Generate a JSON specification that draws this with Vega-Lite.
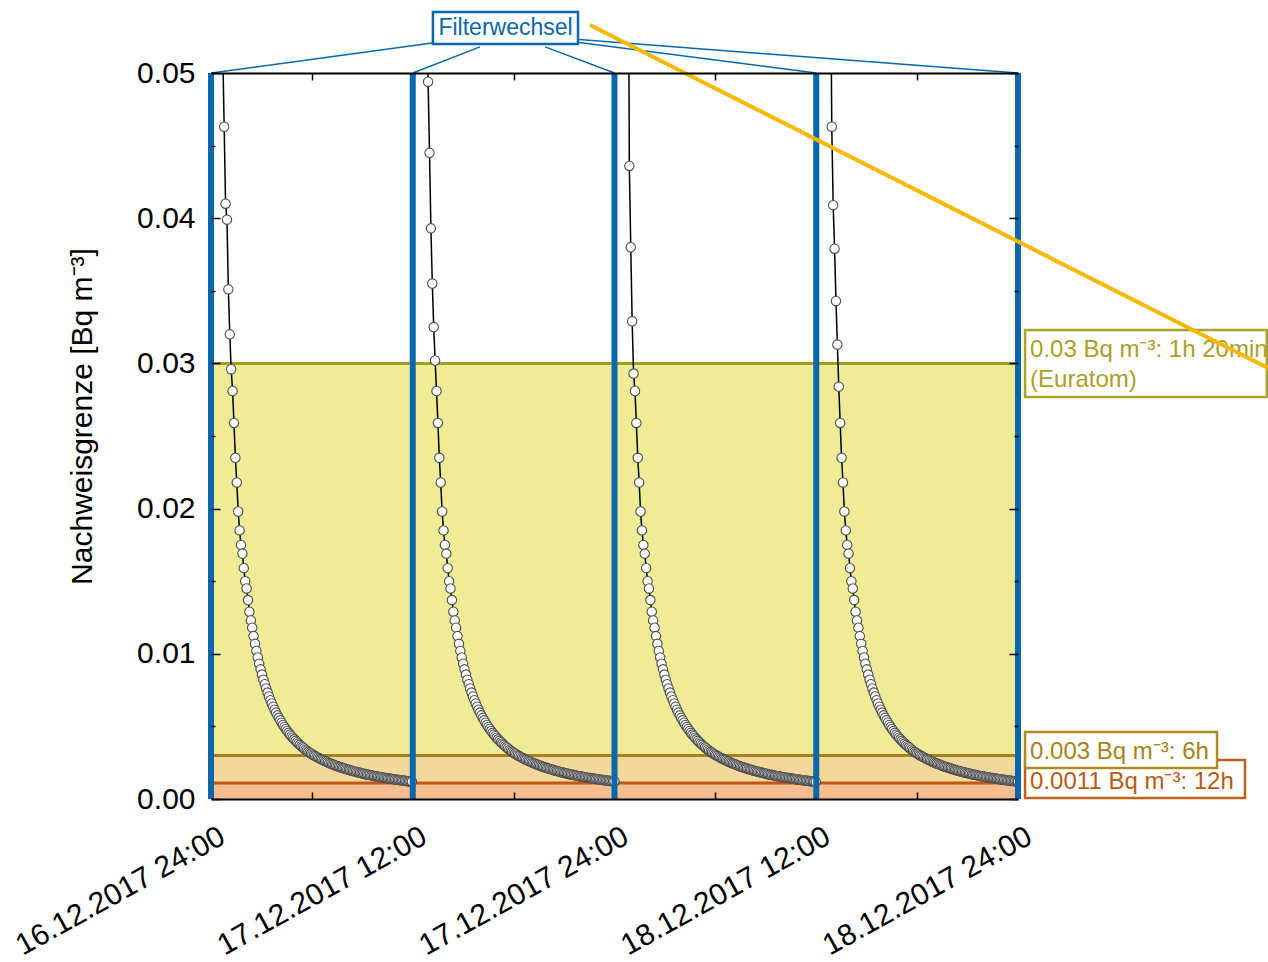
{
"$schema": "https://vega.github.io/schema/vega-lite/v6.json",
"width": 807, "height": 726,
"autosize": {"type": "none"},
"padding": {"left": 211, "top": 73, "right": 250, "bottom": 163},
"background": "white",
"config": {"view": {"stroke": null}, "font": "Liberation Sans"},
"datasets": {
"pts": [
{"s":1,"x":0.7,"y":0.0515},{"s":1,"x":0.783,"y":0.0463},{"s":1,"x":0.867,"y":0.041},{"s":1,"x":0.95,"y":0.0399},{"s":1,"x":1.033,"y":0.0351},{"s":1,"x":1.117,"y":0.032},{"s":1,"x":1.2,"y":0.0296},{"s":1,"x":1.283,"y":0.0281},{"s":1,"x":1.367,"y":0.0259},{"s":1,"x":1.45,"y":0.0235},{"s":1,"x":1.533,"y":0.0218},{"s":1,"x":1.617,"y":0.0198},
{"s":1,"x":1.7,"y":0.0185},{"s":1,"x":1.783,"y":0.0175},{"s":1,"x":1.867,"y":0.0169},{"s":1,"x":1.95,"y":0.0159},{"s":1,"x":2.033,"y":0.015},{"s":1,"x":2.117,"y":0.0145},{"s":1,"x":2.2,"y":0.0137},{"s":1,"x":2.283,"y":0.0129},{"s":1,"x":2.367,"y":0.0123},{"s":1,"x":2.45,"y":0.0118},{"s":1,"x":2.533,"y":0.01122},{"s":1,"x":2.617,"y":0.01069},
{"s":1,"x":2.7,"y":0.0102},{"s":1,"x":2.783,"y":0.00975},{"s":1,"x":2.867,"y":0.00932},{"s":1,"x":2.95,"y":0.00893},{"s":1,"x":3.033,"y":0.00857},{"s":1,"x":3.117,"y":0.00822},{"s":1,"x":3.2,"y":0.00791},{"s":1,"x":3.283,"y":0.00761},{"s":1,"x":3.367,"y":0.00733},{"s":1,"x":3.45,"y":0.00706},{"s":1,"x":3.533,"y":0.00681},{"s":1,"x":3.617,"y":0.00658},
{"s":1,"x":3.7,"y":0.00636},{"s":1,"x":3.783,"y":0.00615},{"s":1,"x":3.867,"y":0.00595},{"s":1,"x":3.95,"y":0.00576},{"s":1,"x":4.033,"y":0.00559},{"s":1,"x":4.117,"y":0.00542},{"s":1,"x":4.2,"y":0.00526},{"s":1,"x":4.283,"y":0.0051},{"s":1,"x":4.367,"y":0.00496},{"s":1,"x":4.45,"y":0.00482},{"s":1,"x":4.533,"y":0.00469},{"s":1,"x":4.617,"y":0.00456},
{"s":1,"x":4.7,"y":0.00444},{"s":1,"x":4.783,"y":0.00433},{"s":1,"x":4.867,"y":0.00422},{"s":1,"x":4.95,"y":0.00411},{"s":1,"x":5.033,"y":0.00401},{"s":1,"x":5.117,"y":0.00391},{"s":1,"x":5.2,"y":0.00382},{"s":1,"x":5.283,"y":0.00373},{"s":1,"x":5.367,"y":0.00364},{"s":1,"x":5.45,"y":0.00356},{"s":1,"x":5.533,"y":0.00348},{"s":1,"x":5.617,"y":0.0034},
{"s":1,"x":5.7,"y":0.00333},{"s":1,"x":5.783,"y":0.00325},{"s":1,"x":5.867,"y":0.00319},{"s":1,"x":5.95,"y":0.00313},{"s":1,"x":6.033,"y":0.00307},{"s":1,"x":6.117,"y":0.00301},{"s":1,"x":6.2,"y":0.00296},{"s":1,"x":6.283,"y":0.0029},{"s":1,"x":6.367,"y":0.00285},{"s":1,"x":6.45,"y":0.0028},{"s":1,"x":6.533,"y":0.00275},{"s":1,"x":6.617,"y":0.0027},
{"s":1,"x":6.7,"y":0.00266},{"s":1,"x":6.783,"y":0.00261},{"s":1,"x":6.867,"y":0.00257},{"s":1,"x":6.95,"y":0.00252},{"s":1,"x":7.033,"y":0.00248},{"s":1,"x":7.117,"y":0.00244},{"s":1,"x":7.2,"y":0.0024},{"s":1,"x":7.283,"y":0.00237},{"s":1,"x":7.367,"y":0.00233},{"s":1,"x":7.45,"y":0.00229},{"s":1,"x":7.533,"y":0.00226},{"s":1,"x":7.617,"y":0.00222},
{"s":1,"x":7.7,"y":0.00219},{"s":1,"x":7.783,"y":0.00216},{"s":1,"x":7.867,"y":0.00213},{"s":1,"x":7.95,"y":0.0021},{"s":1,"x":8.033,"y":0.00207},{"s":1,"x":8.117,"y":0.00204},{"s":1,"x":8.2,"y":0.00201},{"s":1,"x":8.283,"y":0.00198},{"s":1,"x":8.367,"y":0.00195},{"s":1,"x":8.45,"y":0.00193},{"s":1,"x":8.533,"y":0.0019},{"s":1,"x":8.617,"y":0.00188},
{"s":1,"x":8.7,"y":0.00185},{"s":1,"x":8.783,"y":0.00183},{"s":1,"x":8.867,"y":0.0018},{"s":1,"x":8.95,"y":0.00178},{"s":1,"x":9.033,"y":0.00176},{"s":1,"x":9.117,"y":0.00174},{"s":1,"x":9.2,"y":0.00171},{"s":1,"x":9.283,"y":0.00169},{"s":1,"x":9.367,"y":0.00167},{"s":1,"x":9.45,"y":0.00165},{"s":1,"x":9.533,"y":0.00163},{"s":1,"x":9.617,"y":0.00161},
{"s":1,"x":9.7,"y":0.00159},{"s":1,"x":9.783,"y":0.00157},{"s":1,"x":9.867,"y":0.00156},{"s":1,"x":9.95,"y":0.00154},{"s":1,"x":10.033,"y":0.00152},{"s":1,"x":10.117,"y":0.0015},{"s":1,"x":10.2,"y":0.00149},{"s":1,"x":10.283,"y":0.00147},{"s":1,"x":10.367,"y":0.00145},{"s":1,"x":10.45,"y":0.00144},{"s":1,"x":10.533,"y":0.00142},{"s":1,"x":10.617,"y":0.00141},
{"s":1,"x":10.7,"y":0.00139},{"s":1,"x":10.783,"y":0.00138},{"s":1,"x":10.867,"y":0.00136},{"s":1,"x":10.95,"y":0.00135},{"s":1,"x":11.033,"y":0.00133},{"s":1,"x":11.117,"y":0.00132},{"s":1,"x":11.2,"y":0.00131},{"s":1,"x":11.283,"y":0.00129},{"s":1,"x":11.367,"y":0.00128},{"s":1,"x":11.45,"y":0.00127},{"s":1,"x":11.533,"y":0.00126},{"s":1,"x":11.617,"y":0.00124},
{"s":1,"x":11.7,"y":0.00123},{"s":1,"x":11.783,"y":0.00122},{"s":1,"x":11.867,"y":0.00121},{"s":1,"x":11.95,"y":0.0012},
{"s":2,"x":12.83,"y":0.056},{"s":2,"x":12.913,"y":0.0494},{"s":2,"x":12.997,"y":0.0445},{"s":2,"x":13.08,"y":0.0393},{"s":2,"x":13.163,"y":0.0355},{"s":2,"x":13.247,"y":0.0325},{"s":2,"x":13.33,"y":0.0302},{"s":2,"x":13.413,"y":0.0281},{"s":2,"x":13.497,"y":0.0259},{"s":2,"x":13.58,"y":0.0235},{"s":2,"x":13.663,"y":0.0218},{"s":2,"x":13.747,"y":0.0198},
{"s":2,"x":13.83,"y":0.0185},{"s":2,"x":13.913,"y":0.0175},{"s":2,"x":13.997,"y":0.0169},{"s":2,"x":14.08,"y":0.0159},{"s":2,"x":14.163,"y":0.015},{"s":2,"x":14.247,"y":0.0145},{"s":2,"x":14.33,"y":0.0137},{"s":2,"x":14.413,"y":0.0129},{"s":2,"x":14.497,"y":0.0123},{"s":2,"x":14.58,"y":0.0118},{"s":2,"x":14.663,"y":0.01122},{"s":2,"x":14.747,"y":0.01069},
{"s":2,"x":14.83,"y":0.0102},{"s":2,"x":14.913,"y":0.00975},{"s":2,"x":14.997,"y":0.00932},{"s":2,"x":15.08,"y":0.00893},{"s":2,"x":15.163,"y":0.00857},{"s":2,"x":15.247,"y":0.00822},{"s":2,"x":15.33,"y":0.00791},{"s":2,"x":15.413,"y":0.00761},{"s":2,"x":15.497,"y":0.00733},{"s":2,"x":15.58,"y":0.00706},{"s":2,"x":15.663,"y":0.00681},{"s":2,"x":15.747,"y":0.00658},
{"s":2,"x":15.83,"y":0.00636},{"s":2,"x":15.913,"y":0.00615},{"s":2,"x":15.997,"y":0.00595},{"s":2,"x":16.08,"y":0.00576},{"s":2,"x":16.163,"y":0.00559},{"s":2,"x":16.247,"y":0.00542},{"s":2,"x":16.33,"y":0.00526},{"s":2,"x":16.413,"y":0.0051},{"s":2,"x":16.497,"y":0.00496},{"s":2,"x":16.58,"y":0.00482},{"s":2,"x":16.663,"y":0.00469},{"s":2,"x":16.747,"y":0.00456},
{"s":2,"x":16.83,"y":0.00444},{"s":2,"x":16.913,"y":0.00433},{"s":2,"x":16.997,"y":0.00422},{"s":2,"x":17.08,"y":0.00411},{"s":2,"x":17.163,"y":0.00401},{"s":2,"x":17.247,"y":0.00391},{"s":2,"x":17.33,"y":0.00382},{"s":2,"x":17.413,"y":0.00373},{"s":2,"x":17.497,"y":0.00364},{"s":2,"x":17.58,"y":0.00356},{"s":2,"x":17.663,"y":0.00348},{"s":2,"x":17.747,"y":0.0034},
{"s":2,"x":17.83,"y":0.00333},{"s":2,"x":17.913,"y":0.00325},{"s":2,"x":17.997,"y":0.00319},{"s":2,"x":18.08,"y":0.00313},{"s":2,"x":18.163,"y":0.00307},{"s":2,"x":18.247,"y":0.00301},{"s":2,"x":18.33,"y":0.00296},{"s":2,"x":18.413,"y":0.0029},{"s":2,"x":18.497,"y":0.00285},{"s":2,"x":18.58,"y":0.0028},{"s":2,"x":18.663,"y":0.00275},{"s":2,"x":18.747,"y":0.0027},
{"s":2,"x":18.83,"y":0.00266},{"s":2,"x":18.913,"y":0.00261},{"s":2,"x":18.997,"y":0.00257},{"s":2,"x":19.08,"y":0.00252},{"s":2,"x":19.163,"y":0.00248},{"s":2,"x":19.247,"y":0.00244},{"s":2,"x":19.33,"y":0.0024},{"s":2,"x":19.413,"y":0.00237},{"s":2,"x":19.497,"y":0.00233},{"s":2,"x":19.58,"y":0.00229},{"s":2,"x":19.663,"y":0.00226},{"s":2,"x":19.747,"y":0.00222},
{"s":2,"x":19.83,"y":0.00219},{"s":2,"x":19.913,"y":0.00216},{"s":2,"x":19.997,"y":0.00213},{"s":2,"x":20.08,"y":0.0021},{"s":2,"x":20.163,"y":0.00207},{"s":2,"x":20.247,"y":0.00204},{"s":2,"x":20.33,"y":0.00201},{"s":2,"x":20.413,"y":0.00198},{"s":2,"x":20.497,"y":0.00195},{"s":2,"x":20.58,"y":0.00193},{"s":2,"x":20.663,"y":0.0019},{"s":2,"x":20.747,"y":0.00188},
{"s":2,"x":20.83,"y":0.00185},{"s":2,"x":20.913,"y":0.00183},{"s":2,"x":20.997,"y":0.0018},{"s":2,"x":21.08,"y":0.00178},{"s":2,"x":21.163,"y":0.00176},{"s":2,"x":21.247,"y":0.00174},{"s":2,"x":21.33,"y":0.00171},{"s":2,"x":21.413,"y":0.00169},{"s":2,"x":21.497,"y":0.00167},{"s":2,"x":21.58,"y":0.00165},{"s":2,"x":21.663,"y":0.00163},{"s":2,"x":21.747,"y":0.00161},
{"s":2,"x":21.83,"y":0.00159},{"s":2,"x":21.913,"y":0.00157},{"s":2,"x":21.997,"y":0.00156},{"s":2,"x":22.08,"y":0.00154},{"s":2,"x":22.163,"y":0.00152},{"s":2,"x":22.247,"y":0.0015},{"s":2,"x":22.33,"y":0.00149},{"s":2,"x":22.413,"y":0.00147},{"s":2,"x":22.497,"y":0.00145},{"s":2,"x":22.58,"y":0.00144},{"s":2,"x":22.663,"y":0.00142},{"s":2,"x":22.747,"y":0.00141},
{"s":2,"x":22.83,"y":0.00139},{"s":2,"x":22.913,"y":0.00138},{"s":2,"x":22.997,"y":0.00136},{"s":2,"x":23.08,"y":0.00135},{"s":2,"x":23.163,"y":0.00133},{"s":2,"x":23.247,"y":0.00132},{"s":2,"x":23.33,"y":0.00131},{"s":2,"x":23.413,"y":0.00129},{"s":2,"x":23.497,"y":0.00128},{"s":2,"x":23.58,"y":0.00127},{"s":2,"x":23.663,"y":0.00126},{"s":2,"x":23.747,"y":0.00124},
{"s":2,"x":23.83,"y":0.00123},{"s":2,"x":23.913,"y":0.00122},{"s":2,"x":23.997,"y":0.00121},
{"s":3,"x":24.8,"y":0.066},{"s":3,"x":24.883,"y":0.0436},{"s":3,"x":24.967,"y":0.038},{"s":3,"x":25.05,"y":0.0329},{"s":3,"x":25.133,"y":0.0293},{"s":3,"x":25.217,"y":0.0281},{"s":3,"x":25.3,"y":0.0259},{"s":3,"x":25.383,"y":0.0235},{"s":3,"x":25.467,"y":0.0218},{"s":3,"x":25.55,"y":0.0198},{"s":3,"x":25.633,"y":0.0185},{"s":3,"x":25.717,"y":0.0175},
{"s":3,"x":25.8,"y":0.0169},{"s":3,"x":25.883,"y":0.0159},{"s":3,"x":25.967,"y":0.015},{"s":3,"x":26.05,"y":0.0145},{"s":3,"x":26.133,"y":0.0137},{"s":3,"x":26.217,"y":0.0129},{"s":3,"x":26.3,"y":0.0123},{"s":3,"x":26.383,"y":0.0118},{"s":3,"x":26.467,"y":0.01122},{"s":3,"x":26.55,"y":0.01069},{"s":3,"x":26.633,"y":0.0102},{"s":3,"x":26.717,"y":0.00975},
{"s":3,"x":26.8,"y":0.00932},{"s":3,"x":26.883,"y":0.00893},{"s":3,"x":26.967,"y":0.00857},{"s":3,"x":27.05,"y":0.00822},{"s":3,"x":27.133,"y":0.00791},{"s":3,"x":27.217,"y":0.00761},{"s":3,"x":27.3,"y":0.00733},{"s":3,"x":27.383,"y":0.00706},{"s":3,"x":27.467,"y":0.00681},{"s":3,"x":27.55,"y":0.00658},{"s":3,"x":27.633,"y":0.00636},{"s":3,"x":27.717,"y":0.00615},
{"s":3,"x":27.8,"y":0.00595},{"s":3,"x":27.883,"y":0.00576},{"s":3,"x":27.967,"y":0.00559},{"s":3,"x":28.05,"y":0.00542},{"s":3,"x":28.133,"y":0.00526},{"s":3,"x":28.217,"y":0.0051},{"s":3,"x":28.3,"y":0.00496},{"s":3,"x":28.383,"y":0.00482},{"s":3,"x":28.467,"y":0.00469},{"s":3,"x":28.55,"y":0.00456},{"s":3,"x":28.633,"y":0.00444},{"s":3,"x":28.717,"y":0.00433},
{"s":3,"x":28.8,"y":0.00422},{"s":3,"x":28.883,"y":0.00411},{"s":3,"x":28.967,"y":0.00401},{"s":3,"x":29.05,"y":0.00391},{"s":3,"x":29.133,"y":0.00382},{"s":3,"x":29.217,"y":0.00373},{"s":3,"x":29.3,"y":0.00364},{"s":3,"x":29.383,"y":0.00356},{"s":3,"x":29.467,"y":0.00348},{"s":3,"x":29.55,"y":0.0034},{"s":3,"x":29.633,"y":0.00333},{"s":3,"x":29.717,"y":0.00325},
{"s":3,"x":29.8,"y":0.00319},{"s":3,"x":29.883,"y":0.00313},{"s":3,"x":29.967,"y":0.00307},{"s":3,"x":30.05,"y":0.00301},{"s":3,"x":30.133,"y":0.00296},{"s":3,"x":30.217,"y":0.0029},{"s":3,"x":30.3,"y":0.00285},{"s":3,"x":30.383,"y":0.0028},{"s":3,"x":30.467,"y":0.00275},{"s":3,"x":30.55,"y":0.0027},{"s":3,"x":30.633,"y":0.00266},{"s":3,"x":30.717,"y":0.00261},
{"s":3,"x":30.8,"y":0.00257},{"s":3,"x":30.883,"y":0.00252},{"s":3,"x":30.967,"y":0.00248},{"s":3,"x":31.05,"y":0.00244},{"s":3,"x":31.133,"y":0.0024},{"s":3,"x":31.217,"y":0.00237},{"s":3,"x":31.3,"y":0.00233},{"s":3,"x":31.383,"y":0.00229},{"s":3,"x":31.467,"y":0.00226},{"s":3,"x":31.55,"y":0.00222},{"s":3,"x":31.633,"y":0.00219},{"s":3,"x":31.717,"y":0.00216},
{"s":3,"x":31.8,"y":0.00213},{"s":3,"x":31.883,"y":0.0021},{"s":3,"x":31.967,"y":0.00207},{"s":3,"x":32.05,"y":0.00204},{"s":3,"x":32.133,"y":0.00201},{"s":3,"x":32.217,"y":0.00198},{"s":3,"x":32.3,"y":0.00195},{"s":3,"x":32.383,"y":0.00193},{"s":3,"x":32.467,"y":0.0019},{"s":3,"x":32.55,"y":0.00188},{"s":3,"x":32.633,"y":0.00185},{"s":3,"x":32.717,"y":0.00183},
{"s":3,"x":32.8,"y":0.0018},{"s":3,"x":32.883,"y":0.00178},{"s":3,"x":32.967,"y":0.00176},{"s":3,"x":33.05,"y":0.00174},{"s":3,"x":33.133,"y":0.00171},{"s":3,"x":33.217,"y":0.00169},{"s":3,"x":33.3,"y":0.00167},{"s":3,"x":33.383,"y":0.00165},{"s":3,"x":33.467,"y":0.00163},{"s":3,"x":33.55,"y":0.00161},{"s":3,"x":33.633,"y":0.00159},{"s":3,"x":33.717,"y":0.00157},
{"s":3,"x":33.8,"y":0.00156},{"s":3,"x":33.883,"y":0.00154},{"s":3,"x":33.967,"y":0.00152},{"s":3,"x":34.05,"y":0.0015},{"s":3,"x":34.133,"y":0.00149},{"s":3,"x":34.217,"y":0.00147},{"s":3,"x":34.3,"y":0.00145},{"s":3,"x":34.383,"y":0.00144},{"s":3,"x":34.467,"y":0.00142},{"s":3,"x":34.55,"y":0.00141},{"s":3,"x":34.633,"y":0.00139},{"s":3,"x":34.717,"y":0.00138},
{"s":3,"x":34.8,"y":0.00136},{"s":3,"x":34.883,"y":0.00135},{"s":3,"x":34.967,"y":0.00133},{"s":3,"x":35.05,"y":0.00132},{"s":3,"x":35.133,"y":0.00131},{"s":3,"x":35.217,"y":0.00129},{"s":3,"x":35.3,"y":0.00128},{"s":3,"x":35.383,"y":0.00127},{"s":3,"x":35.467,"y":0.00126},{"s":3,"x":35.55,"y":0.00124},{"s":3,"x":35.633,"y":0.00123},{"s":3,"x":35.717,"y":0.00122},
{"s":3,"x":35.8,"y":0.00121},{"s":3,"x":35.883,"y":0.0012},{"s":3,"x":35.967,"y":0.00119},
{"s":4,"x":36.84,"y":0.06},{"s":4,"x":36.923,"y":0.0463},{"s":4,"x":37.007,"y":0.0409},{"s":4,"x":37.09,"y":0.0379},{"s":4,"x":37.173,"y":0.0343},{"s":4,"x":37.257,"y":0.0313},{"s":4,"x":37.34,"y":0.0284},{"s":4,"x":37.423,"y":0.0259},{"s":4,"x":37.507,"y":0.0235},{"s":4,"x":37.59,"y":0.0218},{"s":4,"x":37.673,"y":0.0198},{"s":4,"x":37.757,"y":0.0185},
{"s":4,"x":37.84,"y":0.0175},{"s":4,"x":37.923,"y":0.0169},{"s":4,"x":38.007,"y":0.0159},{"s":4,"x":38.09,"y":0.015},{"s":4,"x":38.173,"y":0.0145},{"s":4,"x":38.257,"y":0.0137},{"s":4,"x":38.34,"y":0.0129},{"s":4,"x":38.423,"y":0.0123},{"s":4,"x":38.507,"y":0.0118},{"s":4,"x":38.59,"y":0.01122},{"s":4,"x":38.673,"y":0.01069},{"s":4,"x":38.757,"y":0.0102},
{"s":4,"x":38.84,"y":0.00975},{"s":4,"x":38.923,"y":0.00932},{"s":4,"x":39.007,"y":0.00893},{"s":4,"x":39.09,"y":0.00857},{"s":4,"x":39.173,"y":0.00822},{"s":4,"x":39.257,"y":0.00791},{"s":4,"x":39.34,"y":0.00761},{"s":4,"x":39.423,"y":0.00733},{"s":4,"x":39.507,"y":0.00706},{"s":4,"x":39.59,"y":0.00681},{"s":4,"x":39.673,"y":0.00658},{"s":4,"x":39.757,"y":0.00636},
{"s":4,"x":39.84,"y":0.00615},{"s":4,"x":39.923,"y":0.00595},{"s":4,"x":40.007,"y":0.00576},{"s":4,"x":40.09,"y":0.00559},{"s":4,"x":40.173,"y":0.00542},{"s":4,"x":40.257,"y":0.00526},{"s":4,"x":40.34,"y":0.0051},{"s":4,"x":40.423,"y":0.00496},{"s":4,"x":40.507,"y":0.00482},{"s":4,"x":40.59,"y":0.00469},{"s":4,"x":40.673,"y":0.00456},{"s":4,"x":40.757,"y":0.00444},
{"s":4,"x":40.84,"y":0.00433},{"s":4,"x":40.923,"y":0.00422},{"s":4,"x":41.007,"y":0.00411},{"s":4,"x":41.09,"y":0.00401},{"s":4,"x":41.173,"y":0.00391},{"s":4,"x":41.257,"y":0.00382},{"s":4,"x":41.34,"y":0.00373},{"s":4,"x":41.423,"y":0.00364},{"s":4,"x":41.507,"y":0.00356},{"s":4,"x":41.59,"y":0.00348},{"s":4,"x":41.673,"y":0.0034},{"s":4,"x":41.757,"y":0.00333},
{"s":4,"x":41.84,"y":0.00325},{"s":4,"x":41.923,"y":0.00319},{"s":4,"x":42.007,"y":0.00313},{"s":4,"x":42.09,"y":0.00307},{"s":4,"x":42.173,"y":0.00301},{"s":4,"x":42.257,"y":0.00296},{"s":4,"x":42.34,"y":0.0029},{"s":4,"x":42.423,"y":0.00285},{"s":4,"x":42.507,"y":0.0028},{"s":4,"x":42.59,"y":0.00275},{"s":4,"x":42.673,"y":0.0027},{"s":4,"x":42.757,"y":0.00266},
{"s":4,"x":42.84,"y":0.00261},{"s":4,"x":42.923,"y":0.00257},{"s":4,"x":43.007,"y":0.00252},{"s":4,"x":43.09,"y":0.00248},{"s":4,"x":43.173,"y":0.00244},{"s":4,"x":43.257,"y":0.0024},{"s":4,"x":43.34,"y":0.00237},{"s":4,"x":43.423,"y":0.00233},{"s":4,"x":43.507,"y":0.00229},{"s":4,"x":43.59,"y":0.00226},{"s":4,"x":43.673,"y":0.00222},{"s":4,"x":43.757,"y":0.00219},
{"s":4,"x":43.84,"y":0.00216},{"s":4,"x":43.923,"y":0.00213},{"s":4,"x":44.007,"y":0.0021},{"s":4,"x":44.09,"y":0.00207},{"s":4,"x":44.173,"y":0.00204},{"s":4,"x":44.257,"y":0.00201},{"s":4,"x":44.34,"y":0.00198},{"s":4,"x":44.423,"y":0.00195},{"s":4,"x":44.507,"y":0.00193},{"s":4,"x":44.59,"y":0.0019},{"s":4,"x":44.673,"y":0.00188},{"s":4,"x":44.757,"y":0.00185},
{"s":4,"x":44.84,"y":0.00183},{"s":4,"x":44.923,"y":0.0018},{"s":4,"x":45.007,"y":0.00178},{"s":4,"x":45.09,"y":0.00176},{"s":4,"x":45.173,"y":0.00174},{"s":4,"x":45.257,"y":0.00171},{"s":4,"x":45.34,"y":0.00169},{"s":4,"x":45.423,"y":0.00167},{"s":4,"x":45.507,"y":0.00165},{"s":4,"x":45.59,"y":0.00163},{"s":4,"x":45.673,"y":0.00161},{"s":4,"x":45.757,"y":0.00159},
{"s":4,"x":45.84,"y":0.00157},{"s":4,"x":45.923,"y":0.00156},{"s":4,"x":46.007,"y":0.00154},{"s":4,"x":46.09,"y":0.00152},{"s":4,"x":46.173,"y":0.0015},{"s":4,"x":46.257,"y":0.00149},{"s":4,"x":46.34,"y":0.00147},{"s":4,"x":46.423,"y":0.00145},{"s":4,"x":46.507,"y":0.00144},{"s":4,"x":46.59,"y":0.00142},{"s":4,"x":46.673,"y":0.00141},{"s":4,"x":46.757,"y":0.00139},
{"s":4,"x":46.84,"y":0.00138},{"s":4,"x":46.923,"y":0.00136},{"s":4,"x":47.007,"y":0.00135},{"s":4,"x":47.09,"y":0.00133},{"s":4,"x":47.173,"y":0.00132},{"s":4,"x":47.257,"y":0.00131},{"s":4,"x":47.34,"y":0.00129},{"s":4,"x":47.423,"y":0.00128},{"s":4,"x":47.507,"y":0.00127},{"s":4,"x":47.59,"y":0.00126},{"s":4,"x":47.673,"y":0.00124},{"s":4,"x":47.757,"y":0.00123},
{"s":4,"x":47.84,"y":0.00122},{"s":4,"x":47.923,"y":0.00121},{"s":4,"x":47.997,"y":0.0012}
],
"bands": [
{"b":"A","x":0,"x2":48,"y":0.003,"y2":0.03},
{"b":"B","x":0,"x2":48,"y":0.0011,"y2":0.003},
{"b":"C","x":0,"x2":48,"y":0,"y2":0.0011}
],
"limits": [{"b":"A","y":0.03},{"b":"B","y":0.003},{"b":"C","y":0.0011}],
"filters": [{"x":0,"y":0,"y2":0.05},{"x":12,"y":0,"y2":0.05},{"x":24,"y":0,"y2":0.05},{"x":36,"y":0,"y2":0.05},{"x":48,"y":0,"y2":0.05}],
"callout": [
{"x":13.15,"y":0.05207,"x2":0,"y2":0.05},
{"x":16.0,"y":0.0518,"x2":12,"y2":0.05},
{"x":19.87,"y":0.0518,"x2":24,"y2":0.05},
{"x":21.9,"y":0.0521,"x2":36,"y2":0.05},
{"x":21.9,"y":0.0523,"x2":48,"y2":0.05}
],
"boxes": [
{"k":"f","x":13.2,"x2":21.83,"y":0.052,"y2":0.0542},
{"k":"c","x":48.42,"x2":61.5,"y":0.00007,"y2":0.00269},
{"k":"b","x":48.42,"x2":59.84,"y":0.00214,"y2":0.00461},
{"k":"a","x":48.42,"x2":62.8,"y":0.02769,"y2":0.0323}
],
"notes": [
{"k":"a","x":48.72,"y":0.03092,"t":"0.03 Bq m⁻³: 1h 20min"},
{"k":"a","x":48.72,"y":0.02886,"t":"(Euratom)"},
{"k":"b","x":48.72,"y":0.00324,"t":"0.003 Bq m⁻³: 6h"},
{"k":"c","x":48.72,"y":0.00117,"t":"0.0011 Bq m⁻³: 12h"}
],
"ftext": [{"x":17.52,"y":0.0531,"t":"Filterwechsel"}],
"yline": [{"x":22.54,"y":0.05331,"x2":62.87,"y2":0.02968}]
},
"layer": [
{
"data": {"name": "bands"},
"mark": {"type": "rect", "strokeWidth": 0},
"encoding": {
"x": {"field": "x", "type": "quantitative", "scale": {"domain": [0, 48], "nice": false, "zero": false},
 "axis": {"orient": "bottom", "values": [0,6,12,18,24,30,36,42,48], "title": null, "grid": false, "zindex": 1,
  "domain": true, "domainColor": "black", "domainWidth": 2,
  "tickColor": {"condition": {"test": "datum.value % 12 == 0", "value": "transparent"}, "value": "black"},
  "tickSize": -7, "tickWidth": 1.5,
  "labelExpr": "datum.value == 0 ? '16.12.2017 24:00' : datum.value == 12 ? '17.12.2017 12:00' : datum.value == 24 ? '17.12.2017 24:00' : datum.value == 36 ? '18.12.2017 12:00' : datum.value == 48 ? '18.12.2017 24:00' : ''",
  "labelAngle": -29, "labelAlign": "right", "labelBaseline": "top", "labelFontSize": 30, "labelColor": "black", "labelLimit": 0,
  "labelPadding": 29, "labelOffset": 4, "labelFlush": false, "labelOverlap": false, "labelBound": false}},
"x2": {"field": "x2"},
"y": {"field": "y", "type": "quantitative", "scale": {"domain": [0, 0.05], "nice": false, "zero": false},
 "axis": {"orient": "left", "values": [0,0.005,0.01,0.015,0.02,0.025,0.03,0.035,0.04,0.045,0.05], "grid": false, "zindex": 1,
  "domain": false, "tickColor": "black", "tickWidth": 1.5,
  "tickSize": {"condition": {"test": "round(datum.value*200) % 2 == 0", "value": -9}, "value": -4},
  "labelExpr": "round(datum.value*200) % 2 == 0 ? format(datum.value, '.2f') : ''",
  "labelFontSize": 30, "labelColor": "black", "labelPadding": 25, "labelBaseline": "middle", "labelFlush": false, "labelOverlap": false, "labelBound": false,
  "title": "Nachweisgrenze [Bq m⁻³]", "titleFontSize": 30, "titleFontWeight": "normal", "titleColor": "black",
  "titleX": -129, "titleY": 343, "titleAngle": -90, "titleAlign": "center", "titleBaseline": "middle"}},
"y2": {"field": "y2"},
"color": {"field": "b", "type": "nominal", "scale": {"domain": ["A","B","C"], "range": ["#F0EB96","#F3D89C","#F6BE8F"]}, "legend": null}
}
},
{
"data": {"name": "limits"},
"mark": {"type": "rule", "strokeWidth": 3},
"encoding": {
"y": {"field": "y", "type": "quantitative", "scale": {"domain": [0, 0.05], "nice": false, "zero": false}, "axis": null},
"color": {"field": "b", "type": "nominal", "scale": {"domain": ["A","B","C"], "range": ["#A69E1E","#A9801D","#BF5A16"]}, "legend": null}
}
},
{
"data": {"name": "pts"},
"mark": {"type": "line", "color": "black", "strokeWidth": 1.5, "clip": true},
"encoding": {
"x": {"field": "x", "type": "quantitative", "scale": {"domain": [0, 48], "nice": false, "zero": false}, "axis": null},
"y": {"field": "y", "type": "quantitative", "scale": {"domain": [0, 0.05], "nice": false, "zero": false}, "axis": null},
"detail": {"field": "s", "type": "nominal"}
}
},
{
"data": {"name": "pts"},
"mark": {"type": "point", "shape": "circle", "filled": true, "fill": "white", "stroke": "#4d4d4d", "strokeWidth": 1.1, "size": 88, "opacity": 1, "clip": true},
"encoding": {
"x": {"field": "x", "type": "quantitative", "scale": {"domain": [0, 48], "nice": false, "zero": false}, "axis": null},
"y": {"field": "y", "type": "quantitative", "scale": {"domain": [0, 0.05], "nice": false, "zero": false}, "axis": null}
}
},
{
"data": {"name": "filters"},
"mark": {"type": "rule", "color": "#0A67AC", "strokeWidth": 6},
"encoding": {
"x": {"field": "x", "type": "quantitative", "scale": {"domain": [0, 48], "nice": false, "zero": false},
 "axis": {"orient": "top", "values": [0,6,12,18,24,30,36,42,48], "labels": false, "title": null, "grid": false, "zindex": 1,
  "domain": true, "domainColor": "black", "domainWidth": 2,
  "tickColor": {"condition": {"test": "datum.value % 12 == 0", "value": "transparent"}, "value": "black"},
  "tickSize": -7, "tickWidth": 1.5}},
"y": {"field": "y", "type": "quantitative", "scale": {"domain": [0, 0.05], "nice": false, "zero": false},
 "axis": {"orient": "right", "values": [0,0.005,0.01,0.015,0.02,0.025,0.03,0.035,0.04,0.045,0.05], "labels": false, "title": null, "grid": false, "zindex": 1,
  "domain": false, "tickColor": "black", "tickWidth": 1.5,
  "tickSize": {"condition": {"test": "round(datum.value*200) % 2 == 0", "value": -9}, "value": -4}}},
"y2": {"field": "y2"}
}
},
{
"data": {"name": "callout"},
"mark": {"type": "rule", "color": "#0A67AC", "strokeWidth": 1.5},
"encoding": {
"x": {"field": "x", "type": "quantitative", "scale": {"domain": [0, 48], "nice": false, "zero": false}, "axis": null},
"y": {"field": "y", "type": "quantitative", "scale": {"domain": [0, 0.05], "nice": false, "zero": false}, "axis": null},
"x2": {"field": "x2"},
"y2": {"field": "y2"}
}
},
{
"data": {"name": "boxes"},
"mark": {"type": "rect", "fill": "white", "strokeWidth": 2.5},
"encoding": {
"x": {"field": "x", "type": "quantitative", "scale": {"domain": [0, 48], "nice": false, "zero": false}, "axis": null},
"x2": {"field": "x2"},
"y": {"field": "y", "type": "quantitative", "scale": {"domain": [0, 0.05], "nice": false, "zero": false}, "axis": null},
"y2": {"field": "y2"},
"stroke": {"field": "k", "type": "nominal", "scale": {"domain": ["f","a","b","c"], "range": ["#0A67AC","#ABA22A","#AE8A25","#C0601A"]}, "legend": null}
}
},
{
"data": {"name": "notes"},
"mark": {"type": "text", "align": "left", "baseline": "middle", "fontSize": 24},
"encoding": {
"x": {"field": "x", "type": "quantitative", "scale": {"domain": [0, 48], "nice": false, "zero": false}, "axis": null},
"y": {"field": "y", "type": "quantitative", "scale": {"domain": [0, 0.05], "nice": false, "zero": false}, "axis": null},
"text": {"field": "t"},
"color": {"field": "k", "type": "nominal", "scale": {"domain": ["a","b","c"], "range": ["#A9A02A","#A8821E","#BA5A16"]}, "legend": null}
}
},
{
"data": {"name": "ftext"},
"mark": {"type": "text", "align": "center", "baseline": "middle", "fontSize": 23, "color": "#0A67AC"},
"encoding": {
"x": {"field": "x", "type": "quantitative", "scale": {"domain": [0, 48], "nice": false, "zero": false}, "axis": null},
"y": {"field": "y", "type": "quantitative", "scale": {"domain": [0, 0.05], "nice": false, "zero": false}, "axis": null},
"text": {"field": "t"}
}
},
{
"data": {"name": "yline"},
"mark": {"type": "rule", "color": "#F8B800", "strokeWidth": 4},
"encoding": {
"x": {"field": "x", "type": "quantitative", "scale": {"domain": [0, 48], "nice": false, "zero": false}, "axis": null},
"y": {"field": "y", "type": "quantitative", "scale": {"domain": [0, 0.05], "nice": false, "zero": false}, "axis": null},
"x2": {"field": "x2"},
"y2": {"field": "y2"}
}
}
],
"resolve": {"scale": {"color": "independent", "stroke": "independent"}, "axis": {"x": "independent", "y": "independent"}}
}
